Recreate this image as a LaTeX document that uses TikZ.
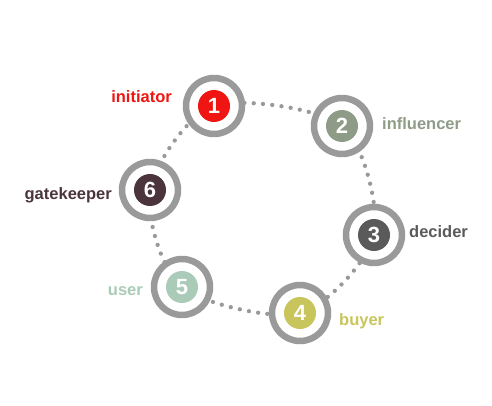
\documentclass[tikz,border=0pt]{standalone}
\usepackage{fontspec}
\setmainfont{Liberation Sans}
\definecolor{ringgray}{HTML}{9A9A9A}
\definecolor{dotgray}{HTML}{999999}
\definecolor{cA}{HTML}{EE1512}
\definecolor{cB}{HTML}{8E9B86}
\definecolor{cC}{HTML}{5A5A5A}
\definecolor{cD}{HTML}{C8C55C}
\definecolor{cE}{HTML}{A9CBB7}
\definecolor{cF}{HTML}{4B343C}
\begin{document}
\begin{tikzpicture}[x=1pt, y=-1pt, line join=round, line cap=round,
	ring/.style={circle, draw=ringgray, line width=6.5pt, fill=white, minimum size=56pt, inner sep=0pt},
	disc/.style={circle, fill=#1, minimum size=32pt, inner sep=0pt, text=white, font=\fontsize{22}{22}\selectfont\bfseries},
	lbl/.style={text=#1, inner sep=0pt, font=\fontsize{16.5}{18}\selectfont\bfseries}]
	\useasboundingbox (0,0) rectangle (492,406);
	% vị trí các vòng
	\coordinate (p1) at (214,106); \coordinate (p2) at (342,126);
	\coordinate (p3) at (374,235); \coordinate (p4) at (300,313);
	\coordinate (p5) at (182,287); \coordinate (p6) at (150,190);
	\draw[dotgray, line width=4.3pt, dash pattern=on 0pt off 9.3pt] plot[smooth cycle] coordinates {(p1) (p2) (p3) (p4) (p5) (p6)};
	\foreach \k/\c in {1/cA,2/cB,3/cC,4/cD,5/cE,6/cF}{
		\node[ring] (r\k) at (p\k) {};
		\node[disc=\c] (n\k) at (p\k) {\k};
	}
	% nhãn
	\node[lbl=cA, anchor=base east] (l1) at (172,102.7) {initiator};
	\node[lbl=cB, anchor=base west] (l2) at (382,130) {influencer};
	\node[lbl=cC, anchor=base west] (l3) at (409,237) {decider};
	\node[lbl=cD, anchor=base west] (l4) at (339,325) {buyer};
	\node[lbl=cE, anchor=base east] (l5) at (143,295) {user};
	\node[lbl=cF, anchor=base east] (l6) at (112,200) {gatekeeper};
\end{tikzpicture}
\end{document}
